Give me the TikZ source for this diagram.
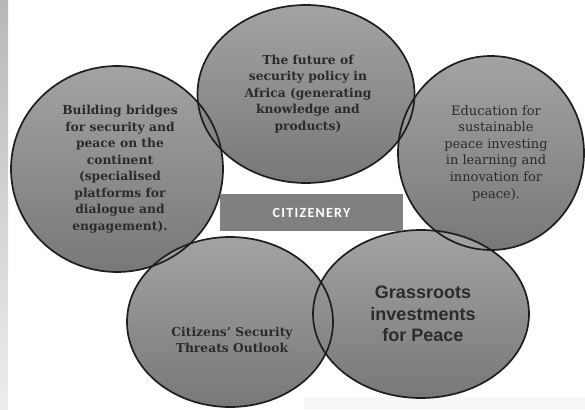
\documentclass[tikz,border=0pt]{standalone}
\usepackage{fontspec}
\newfontfamily\blobfont{DejaVu Serif}
\newfontfamily\grassfont{Liberation Sans}
\newfontfamily\boxfont[LetterSpace=9]{Carlito}
\usetikzlibrary{shapes.geometric, positioning}

\definecolor{blobtop}{HTML}{A3A3A3}
\definecolor{blobbot}{HTML}{787878}
\definecolor{rimcol}{HTML}{1E1E1E}
\definecolor{inkcol}{HTML}{2B2B2B}
\definecolor{boxcol}{HTML}{808080}

\tikzset{
  blob/.style={ellipse, inner sep=0pt, top color=blobtop, bottom color=blobbot},
  rim/.style={draw=rimcol, line width=1.7pt},
  txt/.style={align=center, text=inkcol, font=\blobfont\bfseries\fontsize{12.3}{16.5}\selectfont},
  core/.style={fill=boxcol, text=white, minimum width=183pt, minimum height=37pt,
    font=\boxfont\bfseries\fontsize{14}{16}\selectfont}
}

\newcommand\bloblist{left/117/169/212/206, top/306/94/217/178, right/491/153/186/194,
  lower/230/322/206/170, grass/421/314/216/168}

\begin{document}
\begin{tikzpicture}[x=1pt, y=-1pt]
  \useasboundingbox (0,0) rectangle (585,409);
  % faded strip at the left edge and pale band at the bottom
  \shade[top color=black!28, bottom color=black!7] (0,0) rectangle (8,409);
  \fill[black!3] (304,397) rectangle (585,409);

  % ellipses: fills first, then all rims
  \foreach \nm/\px/\py/\w/\h in \bloblist
    \node[blob, minimum width=\w pt, minimum height=\h pt] (\nm) at (\px,\py) {};
  \foreach \nm/\px/\py/\w/\h in \bloblist
    \draw[rim] (\nm) ellipse [x radius=\w/2, y radius=\h/2];

  % centre box
  \node[core] (citizen) at (311.5,212.5) {CITIZENERY};

  % texts
  \node[txt] (lefttxt) at ([xshift=3pt]left) {Building bridges\\for security and\\peace on the\\continent\\(specialised\\platforms for\\dialogue and\\engagement).};
  \node[txt] (toptxt) at ([xshift=2pt]top) {The future of\\security policy in\\Africa (generating\\knowledge and\\products)};
  \node[txt, font=\blobfont\fontsize{13}{16.6}\selectfont] (righttxt) at ([xshift=5pt]right) {Education for\\sustainable\\peace investing\\in learning and\\innovation for\\peace).};
  \node[txt] (lowertxt) at ([xshift=2pt, yshift=-18pt]lower) {Citizens’ Security\\Threats Outlook};
  \node[txt, font=\grassfont\bfseries\fontsize{18}{21.5}\selectfont] (grasstxt) at ([xshift=2pt]grass) {Grassroots\\investments\\for Peace};
\end{tikzpicture}
\end{document}
